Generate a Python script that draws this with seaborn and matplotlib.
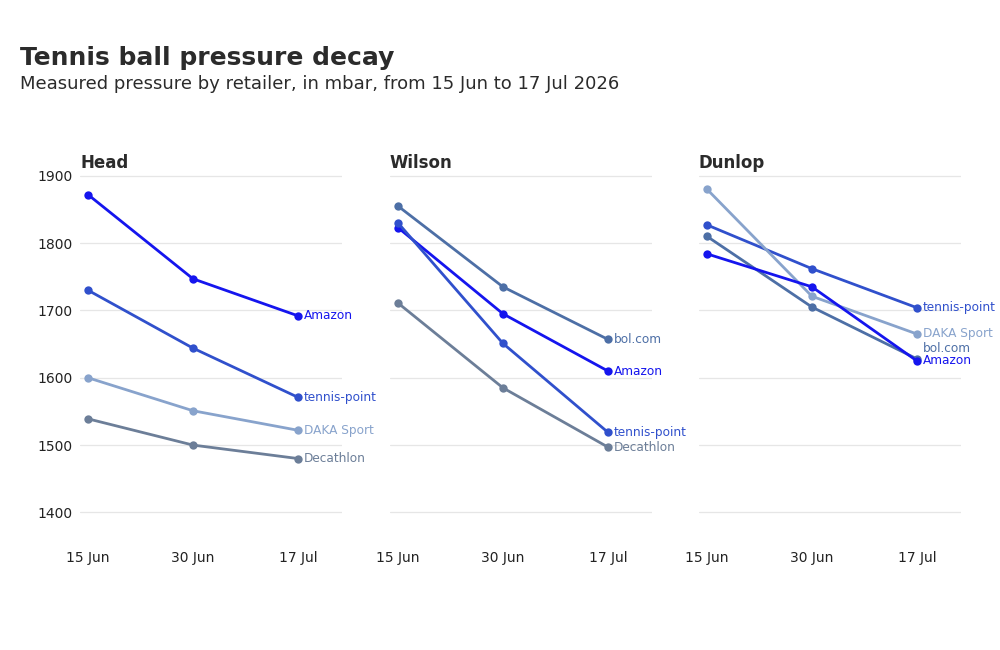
import pandas as pd
import matplotlib.pyplot as plt
import seaborn as sns

sns.set_theme(style="white")
plt.rcParams['font.family'] = ['DejaVu Sans']

dates = ["15 Jun", "30 Jun", "17 Jul"]
brands = ["Head", "Wilson", "Dunlop"]

# pressure in mbar per brand and retailer
head_amazon = [1872, 1747, 1692]
head_tennis_point = [1730, 1644, 1571]
head_daka = [1600, 1551, 1522]
head_decathlon = [1539, 1500, 1480]

wilson_bol = [1855, 1735, 1657]
wilson_amazon = [1823, 1695, 1610]
wilson_tennis_point = [1830, 1651, 1519]
wilson_decathlon = [1711, 1585, 1497]

dunlop_tennis_point = [1827, 1762, 1704]
dunlop_daka = [1880, 1721, 1665]
dunlop_bol = [1810, 1705, 1628]
dunlop_amazon = [1784, 1735, 1625]

colors = {
    "Amazon": "#1515ee",
    "tennis-point": "#3050cc",
    "bol.com": "#4d6fa6",
    "DAKA Sport": "#88a3cc",
    "Decathlon": "#6c7e98",
}

series = {
    "Head": {"Amazon": head_amazon, "tennis-point": head_tennis_point,
             "DAKA Sport": head_daka, "Decathlon": head_decathlon},
    "Wilson": {"bol.com": wilson_bol, "Amazon": wilson_amazon,
               "tennis-point": wilson_tennis_point, "Decathlon": wilson_decathlon},
    "Dunlop": {"tennis-point": dunlop_tennis_point, "DAKA Sport": dunlop_daka,
               "bol.com": dunlop_bol, "Amazon": dunlop_amazon},
}

rows = []
for brand in brands:
    for shop, vals in series[brand].items():
        for d, v in zip(dates, vals):
            rows.append({"brand": brand, "retailer": shop, "date": d, "mbar": v})
df = pd.DataFrame(rows)

fig = plt.figure(figsize=(10, 6.5), dpi=100)
lefts = [0.080, 0.390, 0.699]
axes = [fig.add_axes([l, 0.163, 0.262, 0.578]) for l in lefts]

for ax, brand in zip(axes, brands):
    sub = df[df["brand"] == brand]
    sns.lineplot(data=sub, x="date", y="mbar", hue="retailer", palette=colors,
                 marker="o", markersize=6, markeredgewidth=0, linewidth=2,
                 sort=False, legend=False, ax=ax)
    ax.set_ylim(1353, 1911)
    ax.set_xlim(-0.076, 2.42)
    ax.set_yticks([1400, 1500, 1600, 1700, 1800, 1900])
    ax.grid(axis="y", color="#e6e6e6", linewidth=0.9)
    ax.set_axisbelow(True)
    for s in ax.spines.values():
        s.set_visible(False)
    ax.set_xlabel("")
    ax.set_ylabel("")
    ax.tick_params(axis="both", length=0, labelsize=10, colors="#222222", pad=5)
    if ax is not axes[0]:
        ax.set_yticklabels([])
    ax.set_title(brand, loc="left", fontsize=12, fontweight="bold", color="#2b2b2b", pad=0)

    # end labels, pushed apart so they do not overlap
    ends = sorted(((vals[-1], shop) for shop, vals in series[brand].items()))
    prev = None
    for y, shop in ends:
        if prev is not None and y < prev + 18:
            y = prev + 18
        prev = y
        ax.text(2.058, y, shop, color=colors[shop], fontsize=8.7, va="center", ha="left")

fig.text(0.02, 0.91, "Tennis ball pressure decay", fontsize=18, fontweight="bold",
         color="#2b2b2b", va="center")
fig.text(0.02, 0.871, "Measured pressure by retailer, in mbar, from 15 Jun to 17 Jul 2026",
         fontsize=13, color="#2b2b2b", va="center")

fig.savefig("out.png", dpi=100)
